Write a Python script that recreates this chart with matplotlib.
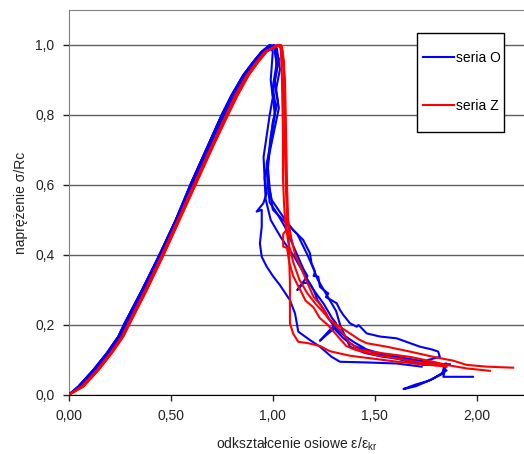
import matplotlib
matplotlib.use("Agg")
import matplotlib.pyplot as plt
from matplotlib.patches import Rectangle

plt.rcParams["font.family"] = ["Liberation Sans", "DejaVu Sans"]
plt.rcParams["mathtext.fontset"] = "custom"
plt.rcParams["mathtext.rm"] = "Liberation Sans"
plt.rcParams["mathtext.it"] = "Liberation Sans:italic"

# rising branch (shared stress levels, two slightly shifted readings per series)
RISE_Y = [0, 0.024, 0.071, 0.119, 0.167, 0.205, 0.30, 0.40, 0.50, 0.605, 0.714, 0.80, 0.857,
          0.914, 0.952, 0.981, 1.0]
RISE_O_A = [0, 0.048, 0.121, 0.187, 0.244, 0.275, 0.36, 0.445, 0.525, 0.60, 0.684, 0.750, 0.799,
            0.856, 0.905, 0.946, 0.986]
RISE_O_B = [0, 0.055, 0.13, 0.196, 0.253, 0.284, 0.37, 0.455, 0.535, 0.61, 0.695, 0.762, 0.812,
            0.868, 0.917, 0.958, 1.005]
RISE_Z_A = [0, 0.072, 0.146, 0.211, 0.268, 0.30, 0.383, 0.465, 0.543, 0.625, 0.71, 0.78, 0.828,
            0.882, 0.929, 0.970, 1.02]
RISE_Z_B = [0, 0.065, 0.14, 0.205, 0.262, 0.294, 0.376, 0.458, 0.536, 0.617, 0.703, 0.772, 0.818,
            0.874, 0.922, 0.962, 1.035]

# post-peak branches, seria O (blue)
O1_X = [1.00, 0.99, 1.00, 0.985, 0.97, 0.955, 0.96, 0.97, 0.954, 0.921, 0.946, 0.946, 0.937, 0.946,
        0.970, 1.003, 1.035, 1.084, 1.109, 1.125, 1.182, 1.231, 1.288, 1.329, 1.460, 1.606, 1.729]
O1_Y = [0.98, 0.90, 0.85, 0.80, 0.74, 0.68, 0.62, 0.576, 0.548, 0.524, 0.529, 0.481, 0.433, 0.395,
        0.367, 0.338, 0.314, 0.271, 0.233, 0.181, 0.157, 0.138, 0.109, 0.095, 0.093, 0.090, 0.081]
O2_X = [1.03, 1.01, 1.025, 1.00, 0.985, 0.975, 0.98, 0.995, 1.051, 1.100, 1.149, 1.182, 1.190, 1.207,
        1.20, 1.223, 1.231, 1.25, 1.272, 1.26, 1.29, 1.313, 1.329, 1.345, 1.378, 1.411, 1.42, 1.460,
        1.525, 1.606, 1.721, 1.780, 1.810, 1.818, 1.76]
O2_Y = [0.96, 0.90, 0.84, 0.78, 0.70, 0.64, 0.60, 0.557, 0.509, 0.471, 0.443, 0.405, 0.376, 0.352,
        0.34, 0.338, 0.309, 0.30, 0.290, 0.28, 0.27, 0.262, 0.243, 0.229, 0.205, 0.195, 0.20, 0.176,
        0.167, 0.162, 0.138, 0.130, 0.124, 0.109, 0.10]
O3_X = [1.01, 1.02, 1.00, 1.01, 0.99, 0.97, 0.975, 0.985, 1.02, 1.06, 1.09, 1.12, 1.15, 1.17, 1.12,
        1.15, 1.18, 1.20, 1.22, 1.25, 1.27, 1.29, 1.31, 1.35, 1.40, 1.46, 1.55, 1.65, 1.75, 1.84,
        1.83, 1.76, 1.70, 1.64, 1.70, 1.78, 1.85]
O3_Y = [0.995, 0.93, 0.86, 0.80, 0.72, 0.66, 0.60, 0.55, 0.52, 0.48, 0.44, 0.40, 0.36, 0.34, 0.30,
        0.32, 0.32, 0.30, 0.27, 0.245, 0.22, 0.205, 0.19, 0.17, 0.15, 0.13, 0.115, 0.105, 0.095, 0.085,
        0.06, 0.04, 0.03, 0.017, 0.025, 0.045, 0.07]
O4_X = [1.02, 1.035, 1.015, 1.03, 1.005, 0.98, 0.96, 0.965, 0.99, 1.04, 1.10, 1.15, 1.20, 1.25, 1.29,
        1.31, 1.27, 1.231, 1.26, 1.30, 1.35, 1.40, 1.50, 1.60, 1.70, 1.80, 1.85, 1.835, 1.90, 1.98]
O4_Y = [0.99, 0.93, 0.87, 0.82, 0.75, 0.68, 0.62, 0.56, 0.50, 0.45, 0.40, 0.35, 0.30, 0.26, 0.22,
        0.205, 0.18, 0.155, 0.17, 0.19, 0.16, 0.14, 0.12, 0.105, 0.09, 0.085, 0.09, 0.052, 0.052, 0.052]
O5_X = [1.005, 1.02, 1.00, 1.015, 0.99, 0.975, 0.985, 1.00, 1.05, 1.12, 1.17, 1.20, 1.22, 1.25, 1.28,
        1.31, 1.33, 1.36, 1.378, 1.45, 1.541, 1.672, 1.736, 1.867]
O5_Y = [0.995, 0.95, 0.88, 0.82, 0.74, 0.66, 0.59, 0.53, 0.50, 0.46, 0.40, 0.36, 0.33, 0.30, 0.27,
        0.24, 0.20, 0.16, 0.138, 0.12, 0.109, 0.10, 0.086, 0.088]

# post-peak branches, seria Z (red)
Z1_X = [1.045, 1.06, 1.065, 1.07, 1.075, 1.08, 1.084, 1.084, 1.10, 1.125, 1.174, 1.231, 1.28, 1.38,
        1.49, 1.61, 1.753, 1.851]
Z1_Y = [0.99, 0.90, 0.75, 0.60, 0.50, 0.40, 0.32, 0.205, 0.175, 0.152, 0.148, 0.14, 0.125, 0.112,
        0.104, 0.095, 0.087, 0.081]
Z2_X = [1.04, 1.045, 1.05, 1.05, 1.055, 1.06, 1.075, 1.10, 1.13, 1.17, 1.21, 1.25, 1.28, 1.297,
        1.345, 1.378, 1.427, 1.541, 1.672, 1.786, 1.851, 1.949, 2.063]
Z2_Y = [0.98, 0.90, 0.75, 0.62, 0.55, 0.50, 0.44, 0.38, 0.33, 0.29, 0.26, 0.235, 0.215, 0.205,
        0.176, 0.148, 0.129, 0.119, 0.109, 0.095, 0.086, 0.076, 0.069]
Z3_X = [1.04, 1.05, 1.055, 1.06, 1.065, 1.075, 1.09, 1.11, 1.14, 1.17, 1.20, 1.23, 1.26, 1.28, 1.329,
        1.378, 1.427, 1.460, 1.558, 1.672, 1.786, 1.884, 1.949, 2.047, 2.177]
Z3_Y = [1.0, 0.97, 0.85, 0.70, 0.58, 0.50, 0.45, 0.40, 0.36, 0.32, 0.28, 0.26, 0.235, 0.214, 0.195,
        0.176, 0.157, 0.148, 0.138, 0.124, 0.109, 0.098, 0.086, 0.081, 0.078]
Z4_X = [1.045, 1.055, 1.06, 1.065, 1.07, 1.065, 1.051, 1.051, 1.07, 1.08, 1.10, 1.117, 1.135, 1.16,
        1.20, 1.23, 1.27, 1.30, 1.33, 1.36, 1.40, 1.50, 1.60, 1.70, 1.80, 1.85]
Z4_Y = [0.995, 0.95, 0.80, 0.62, 0.52, 0.47, 0.46, 0.424, 0.42, 0.38, 0.34, 0.32, 0.30, 0.27, 0.25,
        0.22, 0.20, 0.18, 0.16, 0.14, 0.13, 0.115, 0.105, 0.095, 0.088, 0.085]

X_TICKS = [0.0, 0.5, 1.0, 1.5, 2.0]
X_TICK_LABELS = ["0,00", "0,50", "1,00", "1,50", "2,00"]
Y_TICKS = [0.0, 0.2, 0.4, 0.6, 0.8, 1.0]
Y_TICK_LABELS = ["0,0", "0,2", "0,4", "0,6", "0,8", "1,0"]

BLUE = "#0000FF"
RED = "#FF0000"
W, H = 524, 454

fig = plt.figure(figsize=(W / 100, H / 100), dpi=100)
ax = fig.add_axes([68.5 / W, 59 / H, (W - 68.5) / W, 385 / H])

blue_curves = [(RISE_O_A, O1_X, O1_Y), (RISE_O_B, O2_X, O2_Y), (RISE_O_A, O3_X, O3_Y),
               (RISE_O_B, O4_X, O4_Y), (RISE_O_A, O5_X, O5_Y)]
red_curves = [(RISE_Z_A, Z1_X, Z1_Y), (RISE_Z_B, Z2_X, Z2_Y), (RISE_Z_A, Z3_X, Z3_Y),
              (RISE_Z_B, Z4_X, Z4_Y)]

for i, (rx, dx, dy) in enumerate(blue_curves):
    ax.plot(rx + dx, RISE_Y + dy, color=BLUE, lw=1.5, zorder=3,
            label="seria O" if i == 0 else None)
for i, (rx, dx, dy) in enumerate(red_curves):
    ax.plot(rx + dx, RISE_Y + dy, color=RED, lw=1.5, zorder=4,
            label="seria Z" if i == 0 else None)

ax.set_xlim(0, 2.23)
ax.set_ylim(0, 1.1)
ax.set_xticks(X_TICKS)
ax.set_xticklabels(X_TICK_LABELS)
ax.set_yticks(Y_TICKS)
ax.set_yticklabels(Y_TICK_LABELS)
ax.tick_params(axis="both", direction="out", length=4, width=1, labelsize=10,
               colors="#222222", pad=6)
ax.yaxis.grid(True, color="#606060", lw=1)
ax.set_axisbelow(True)

for s in ["left", "top"]:
    ax.spines[s].set_color("#808080")
ax.spines["bottom"].set_color("black")
ax.spines["right"].set_visible(False)

ax.set_xlabel("odkształcenie osiowe ε/ε$_{\\mathrm{kr}}$", fontsize=10, color="#222222", labelpad=9)
ax.set_ylabel("naprężenie σ/Rc", fontsize=10, color="#222222", labelpad=5)

# legend box (tall, narrow padding like the original)
box = Rectangle((416.7 / W, 1 - 131.7 / H), 87.3 / W, 98.4 / H, transform=fig.transFigure,
                facecolor="white", edgecolor="black", lw=1, zorder=5.5)
box.set_clip_on(False)
ax.add_patch(box)
leg = ax.legend(loc="center", bbox_to_anchor=(462 / W, 1 - 81.9 / H),
                bbox_transform=fig.transFigure, borderaxespad=0, borderpad=0, fontsize=10,
                handlelength=2.2, labelspacing=2.5, handletextpad=0.15, frameon=False)
leg.set_zorder(6)

fig.savefig("out.png", dpi=100)
